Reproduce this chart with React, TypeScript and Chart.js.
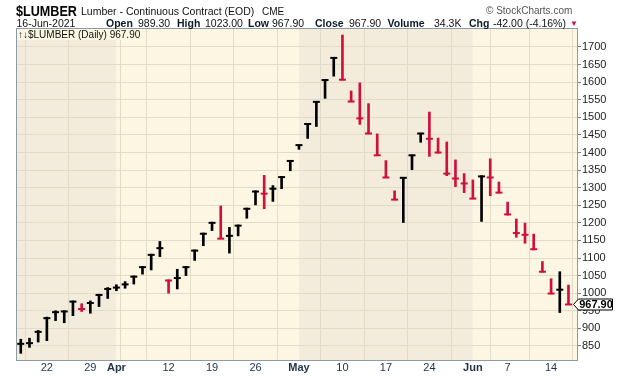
import { useEffect, useRef } from 'react';
import { Chart, registerables } from 'chart.js';

Chart.register(...registerables);

// ---- data ----
const dates = [
  '2021-03-17', '2021-03-18', '2021-03-19', '2021-03-22', '2021-03-23', '2021-03-24', '2021-03-25', '2021-03-26',
  '2021-03-29', '2021-03-30', '2021-03-31', '2021-04-01', '2021-04-05', '2021-04-06', '2021-04-07', '2021-04-08',
  '2021-04-09', '2021-04-12', '2021-04-13', '2021-04-14', '2021-04-15', '2021-04-16', '2021-04-19', '2021-04-20',
  '2021-04-21', '2021-04-22', '2021-04-23', '2021-04-26', '2021-04-27', '2021-04-28', '2021-04-29', '2021-04-30',
  '2021-05-03', '2021-05-04', '2021-05-05', '2021-05-06', '2021-05-07', '2021-05-10', '2021-05-11', '2021-05-12',
  '2021-05-13', '2021-05-14', '2021-05-17', '2021-05-18', '2021-05-19', '2021-05-20', '2021-05-21', '2021-05-24',
  '2021-05-25', '2021-05-26', '2021-05-27', '2021-05-28', '2021-06-01', '2021-06-02', '2021-06-03', '2021-06-04',
  '2021-06-07', '2021-06-08', '2021-06-09', '2021-06-10', '2021-06-11', '2021-06-14', '2021-06-15', '2021-06-16',
];

const highs = [
  869, 872, 894, 932, 950, 950, 978, 970,
  978, 997, 1016, 1024, 1033, 1049, 1076, 1111,
  1147, 1038, 1068, 1076, 1123, 1171, 1202, 1248,
  1187, 1194, 1242, 1291, 1335, 1306, 1332, 1377,
  1421, 1483, 1545, 1608, 1670, 1734, 1575, 1598,
  1539, 1453, 1377, 1291, 1329, 1393, 1455, 1515,
  1441, 1430, 1379, 1340, 1322, 1334, 1382, 1316,
  1259, 1211, 1199, 1168, 1090, 1041, 1061, 1023,
];

const lows = [
  829, 846, 861, 865, 922, 916, 936, 948,
  943, 962, 985, 1007, 1014, 1026, 1054, 1066,
  1104, 1000, 1012, 1050, 1093, 1135, 1178, 1155,
  1114, 1163, 1213, 1251, 1240, 1261, 1297, 1348,
  1409, 1440, 1474, 1554, 1617, 1606, 1544, 1480,
  1453, 1391, 1328, 1266, 1201, 1351, 1429, 1389,
  1398, 1334, 1303, 1286, 1268, 1204, 1277, 1285,
  1222, 1159, 1142, 1123, 1060, 998, 945, 967.9,
];

const closes = [
  856, 858, 890, 929, 946, 948, 976, 955,
  972, 995, 1012, 1016, 1025, 1047, 1074, 1109,
  1128, 1036, 1043, 1074, 1121, 1169, 1200, 1155,
  1163, 1192, 1240, 1289, 1283, 1297, 1330, 1376,
  1421, 1481, 1544, 1606, 1669, 1607, 1545, 1497,
  1454, 1392, 1329, 1266, 1328, 1392, 1454, 1439,
  1400, 1340, 1326, 1312, 1269, 1332, 1329, 1286,
  1224, 1171, 1166, 1125, 1061, 999, 1009.9, 967.9,
];

const xTickIndex = [3, 8, 11, 12, 17, 22, 27, 32, 37, 42, 47, 52, 56, 61];
const xTickLabels = ['22', '29', 'Apr', '', '12', '19', '26', 'May', '10', '17', '24', 'Jun', '7', '14'];
const monthLabels = ['Apr', 'May', 'Jun'];
const monthStartIndex = [11, 32, 52];
const yTickValues = [850, 900, 950, 1000, 1050, 1100, 1150, 1200, 1250, 1300, 1350, 1400, 1450, 1500, 1550, 1600, 1650, 1700];

const FONT = '"Liberation Sans", Arial, sans-serif';
const RED = '#d0103c';
const BLACK = '#000000';
const DARK_BG = '#f3ecdc';
const LIGHT_BG = '#fdf6e3';
const GRID = '#e2dbc8';
const BORDER = '#8c9ca4';

const barColors = closes.map((c, i) => (i > 0 && c < closes[i - 1] ? RED : BLACK));

const framePlugin = {
  id: 'frame',
  beforeDraw(chart: any) {
    const { ctx, chartArea } = chart;
    const xs = chart.scales.x;
    const bounds = [chartArea.left, ...monthStartIndex.map((i) => xs.getPixelForValue(i)), chartArea.right];
    ctx.save();
    for (let k = 0; k < bounds.length - 1; k++) {
      ctx.fillStyle = k % 2 === 0 ? DARK_BG : LIGHT_BG;
      ctx.fillRect(bounds[k], chartArea.top, bounds[k + 1] - bounds[k], chartArea.bottom - chartArea.top);
    }
    ctx.restore();
  },
  afterDraw(chart: any) {
    const { ctx, chartArea } = chart;
    ctx.save();
    // legend box
    ctx.fillStyle = LIGHT_BG;
    ctx.fillRect(chartArea.left + 1, chartArea.top + 1, 123, 11);
    // border
    ctx.strokeStyle = BORDER;
    ctx.lineWidth = 1;
    ctx.strokeRect(Math.round(chartArea.left) + 0.5, Math.round(chartArea.top) + 0.5,
      Math.round(chartArea.right - chartArea.left), Math.round(chartArea.bottom - chartArea.top));
    // last value label
    const last = closes[closes.length - 1];
    const y = Math.round(chart.scales.y.getPixelForValue(last)) + 0.5;
    const xr = Math.round(chartArea.right);
    ctx.beginPath();
    ctx.moveTo(xr - 3.5, y);
    ctx.lineTo(xr + 1.5, y - 5.5);
    ctx.lineTo(xr + 35.5, y - 5.5);
    ctx.lineTo(xr + 35.5, y + 5.5);
    ctx.lineTo(xr + 1.5, y + 5.5);
    ctx.closePath();
    ctx.fillStyle = '#ffffff';
    ctx.fill();
    ctx.strokeStyle = '#000';
    ctx.stroke();
    ctx.fillStyle = '#000';
    ctx.font = 'bold 11px ' + FONT;
    ctx.textAlign = 'center';
    ctx.textBaseline = 'middle';
    ctx.fillText(last.toFixed(2), xr + 19, y + 0.5);
    ctx.restore();
  },
};

const abs = (left: number, top: number, size: number, extra: any = {}) => ({
  position: 'absolute' as const,
  left,
  top,
  fontSize: size,
  lineHeight: 1,
  fontFamily: FONT,
  whiteSpace: 'nowrap' as const,
  color: '#111',
  ...extra,
});

const LABEL = { fontWeight: 'bold', color: '#0d1a26' };

export default function App() {
  const ref = useRef<HTMLCanvasElement | null>(null);

  useEffect(() => {
    document.body.style.margin = '0';
    const canvas = ref.current;
    if (!canvas) return;
    const chart = new Chart(canvas, {
      type: 'bar',
      data: {
        labels: dates,
        datasets: [
          {
            type: 'bar',
            data: highs.map((h, i) => ({ x: i, y: [lows[i], h] })) as any,
            backgroundColor: barColors,
            borderWidth: 0,
            barThickness: 2,
            grouped: false,
          } as any,
          {
            type: 'scatter',
            data: closes.map((c, i) => ({ x: i, y: c })),
            pointStyle: 'line',
            radius: 3.5,
            borderWidth: 2,
            borderColor: barColors,
            backgroundColor: barColors,
          } as any,
        ],
      },
      options: {
        animation: false,
        responsive: false,
        events: [],
        layout: { padding: { left: 16, top: 28, right: 0, bottom: 0 } },
        plugins: { legend: { display: false }, tooltip: { enabled: false } },
        scales: {
          x: {
            type: 'linear',
            min: -0.55,
            max: 63.98,
            offset: false,
            border: { display: false },
            grid: {
              color: (c: any) => (c.tick && c.tick.value === 11 ? 'rgba(0,0,0,0)' : GRID),
              drawTicks: false,
            },
            ticks: {
              autoSkip: false,
              maxRotation: 0,
              padding: 1,
              color: '#1f3246',
              font: (c: any) => ({
                family: FONT,
                size: 11,
                weight: monthLabels.includes(xTickLabels[c.index]) ? 'bold' : 'normal',
              }),
              callback: (_v: any, i: number) => xTickLabels[i],
            },
            afterBuildTicks: (s: any) => {
              s.ticks = xTickIndex.map((v) => ({ value: v }));
            },
            afterFit: (s: any) => {
              s.height = 16;
            },
          },
          y: {
            type: 'linear',
            position: 'right',
            min: 810,
            max: 1754,
            border: { display: false },
            grid: { color: GRID, drawTicks: true, tickLength: 4, tickColor: '#6f7f88' },
            ticks: {
              padding: 1,
              color: '#222',
              font: { family: FONT, size: 11 },
              callback: (v: any) => String(v),
            },
            afterBuildTicks: (s: any) => {
              s.ticks = yTickValues.map((v) => ({ value: v }));
            },
            afterFit: (s: any) => {
              s.width = 43;
            },
          },
        },
      } as any,
      plugins: [framePlugin],
    });
    return () => chart.destroy();
  }, []);

  return (
    <div style={{ position: 'relative', width: 620, height: 376, background: '#fff', overflow: 'hidden' }}>
      <canvas ref={ref} width={620} height={376} style={{ position: 'absolute', left: 0, top: 0 }} />
      <span style={abs(16, 3, 15, { fontWeight: 'bold', color: '#000', transform: 'scaleX(0.84)', transformOrigin: 'left top' })}>$LUMBER</span>
      <span style={abs(81, 6, 10.5)}>Lumber - Continuous Contract (EOD)</span>
      <span style={abs(262, 6.5, 10)}>CME</span>
      <span style={abs(486, 6, 10, { color: '#555' })}>© StockCharts.com</span>

      <span style={abs(16.5, 18, 10.5)}>16-Jun-2021</span>
      <span style={abs(106, 18, 10.5, LABEL)}>Open</span>
      <span style={abs(138, 18, 10.5)}>989.30</span>
      <span style={abs(177, 18, 10.5, LABEL)}>High</span>
      <span style={abs(205, 18, 10.5)}>1023.00</span>
      <span style={abs(248, 18, 10.5, LABEL)}>Low</span>
      <span style={abs(272, 18, 10.5)}>967.90</span>
      <span style={abs(315, 18, 10.5, LABEL)}>Close</span>
      <span style={abs(349, 18, 10.5)}>967.90</span>
      <span style={abs(387.5, 18, 10.5, LABEL)}>Volume</span>
      <span style={abs(434, 18, 10.5)}>34.3K</span>
      <span style={abs(469, 18, 10.5, LABEL)}>Chg</span>
      <span style={abs(493, 18, 10.5)}>-42.00 (-4.16%)</span>
      <span style={abs(570, 20, 8, { color: RED })}>▼</span>

      <span style={abs(18, 30, 10, { color: '#111' })}>↑↓$LUMBER (Daily) 967.90</span>
    </div>
  );
}
